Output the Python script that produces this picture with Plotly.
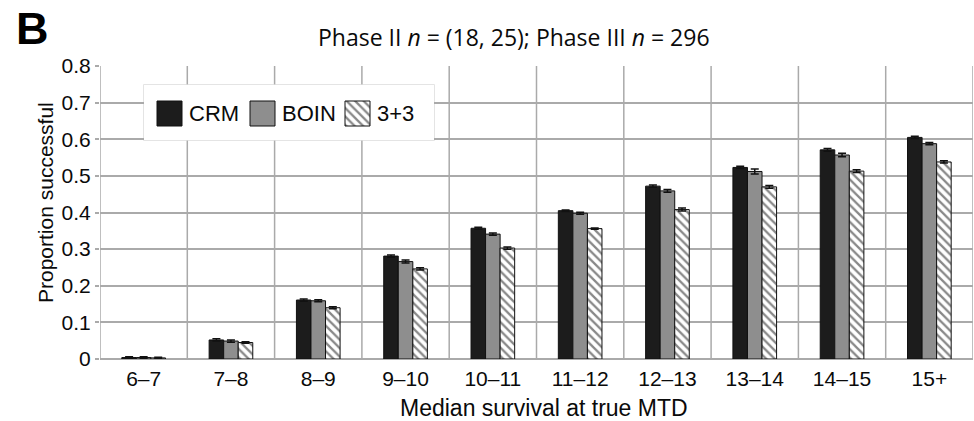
import plotly.graph_objects as go

categories = ["6–7", "7–8", "8–9", "9–10", "10–11", "11–12", "12–13", "13–14", "14–15", "15+"]
crm = [0.004, 0.052, 0.161, 0.281, 0.357, 0.405, 0.472, 0.523, 0.571, 0.605]
boin = [0.004, 0.049, 0.159, 0.266, 0.341, 0.398, 0.459, 0.512, 0.557, 0.588]
three = [0.003, 0.045, 0.140, 0.246, 0.303, 0.356, 0.408, 0.470, 0.513, 0.538]
crm_err = [0.002, 0.003, 0.003, 0.003, 0.003, 0.002, 0.003, 0.003, 0.004, 0.003]
boin_err = [0.002, 0.003, 0.003, 0.004, 0.003, 0.003, 0.004, 0.007, 0.005, 0.003]
three_err = [0.002, 0.002, 0.003, 0.003, 0.003, 0.002, 0.004, 0.004, 0.004, 0.003]
series_names = ["CRM", "BOIN", "3+3"]
y_ticks = [0, 0.1, 0.2, 0.3, 0.4, 0.5, 0.6, 0.7, 0.8]
y_ticklabels = ["0", "0.1", "0.2", "0.3", "0.4", "0.5", "0.6", "0.7", "0.8"]

FONT = "Liberation Sans, Arial, sans-serif"
TXT = "#0a0a0a"
W, H = 974, 421
L, R, T, B = 100, 1, 66, 62
PW, PH = W - L - R, H - T - B
GRID = "#aaaaaa"


def px_x(p):
    return (p - L) / PW


def px_y(p):
    return (H - B - p) / PH


colors = ["#1c1c1c", "#8e8e8e", "white"]
patterns = [None, None, dict(shape="\\", fgcolor="#111111", bgcolor="white", size=6, solidity=0.38)]
values = [crm, boin, three]
errors = [crm_err, boin_err, three_err]

fig = go.Figure()
err_style = dict(type="data", color="#111111", thickness=1.5, width=4)
for name, col, pat, vals, errs in zip(series_names, colors, patterns, values, errors):
    marker = dict(color=col, line=dict(color="#111111", width=1))
    if pat:
        marker["pattern"] = pat
    fig.add_trace(go.Bar(name=name, x=categories, y=vals, marker=marker,
                         error_y=dict(array=errs, **err_style), showlegend=False))

# Legend box (drawn as an inset so the swatches can be large)
LEG_X0, LEG_X1, LEG_Y0, LEG_Y1 = 144, 434, 85, 140
swatch_left = [157, 250, 345]
swatch_size = 25
text_left = [187, 280, 375]
for name, col, pat, sx in zip(series_names, colors, patterns, swatch_left):
    marker = dict(color=col, line=dict(color="#111111", width=1))
    if pat:
        marker["pattern"] = pat
    fig.add_trace(go.Bar(x=[sx + swatch_size / 2], y=[swatch_size], base=[14], width=[swatch_size],
                         marker=marker, xaxis="x2", yaxis="y2", showlegend=False,
                         hoverinfo="skip"))

annotations = []
for name, tx in zip(series_names, text_left):
    annotations.append(dict(text=name, x=tx, y=26.5, xref="x2", yref="y2", xanchor="left",
                            yanchor="middle", showarrow=False,
                            font=dict(family=FONT, size=22, color=TXT)))
annotations += [
    dict(text="<b>B</b>", x=px_x(14), y=px_y(29), xref="paper", yref="paper",
         xanchor="left", yanchor="middle", showarrow=False,
         font=dict(family=FONT, size=45, color="#000000")),
    dict(text="Phase II <i>n</i> = (18, 25); Phase III <i>n</i> = 296",
         x=px_x(514), y=px_y(37), xref="paper", yref="paper",
         showarrow=False, xanchor="center", yanchor="middle",
         font=dict(family="Open Sans, sans-serif", size=23, color=TXT)),
    dict(text="Median survival at true MTD", x=px_x(544), y=px_y(408), xref="paper", yref="paper",
         showarrow=False, xanchor="center", yanchor="middle",
         font=dict(family=FONT, size=23, color=TXT)),
    dict(text="Proportion successful", x=px_x(45), y=px_y(203), xref="paper", yref="paper",
         showarrow=False, xanchor="center", yanchor="middle", textangle=-90,
         font=dict(family=FONT, size=21, color=TXT)),
]

fig.update_layout(
    width=W, height=H,
    margin=dict(l=L, r=R, t=T, b=B),
    paper_bgcolor="white", plot_bgcolor="white",
    barmode="group", bargap=0.5, bargroupgap=0,
    font=dict(family=FONT, size=21, color=TXT),
    showlegend=False,
    xaxis=dict(
        showgrid=False, ticks="outside", ticklen=1, tickcolor="rgba(0,0,0,0)",
        tickfont=dict(size=21, color=TXT), showline=False, range=[-0.5, len(categories) - 0.5],
    ),
    yaxis=dict(
        range=[0, 0.8], tickvals=y_ticks, ticktext=y_ticklabels,
        showgrid=True, gridcolor=GRID, gridwidth=1.5,
        zeroline=True, zerolinecolor=GRID, zerolinewidth=1.5,
        tickfont=dict(size=21, color=TXT), ticks="outside", ticklen=4, tickcolor=GRID, tickwidth=1.5,
    ),
    xaxis2=dict(domain=[px_x(LEG_X0), px_x(LEG_X1)], range=[LEG_X0, LEG_X1], anchor="y2",
                visible=False, fixedrange=True),
    yaxis2=dict(domain=[px_y(LEG_Y1), px_y(LEG_Y0)], range=[0, LEG_Y1 - LEG_Y0], anchor="x2",
                visible=False, fixedrange=True),
    annotations=annotations,
)

# category separators: vertical gridlines between categories
for i in range(len(categories) + 1):
    fig.add_shape(type="line", xref="x", yref="paper", x0=i - 0.5, x1=i - 0.5,
                  y0=0, y1=1, line=dict(color=GRID, width=1.5), layer="below")

# legend frame
fig.add_shape(type="rect", xref="paper", yref="paper",
              x0=px_x(LEG_X0), x1=px_x(LEG_X1), y0=px_y(LEG_Y1), y1=px_y(LEG_Y0),
              fillcolor="white", line=dict(color="#dcdcdc", width=1.5), layer="below")

fig.write_html("out.html")
